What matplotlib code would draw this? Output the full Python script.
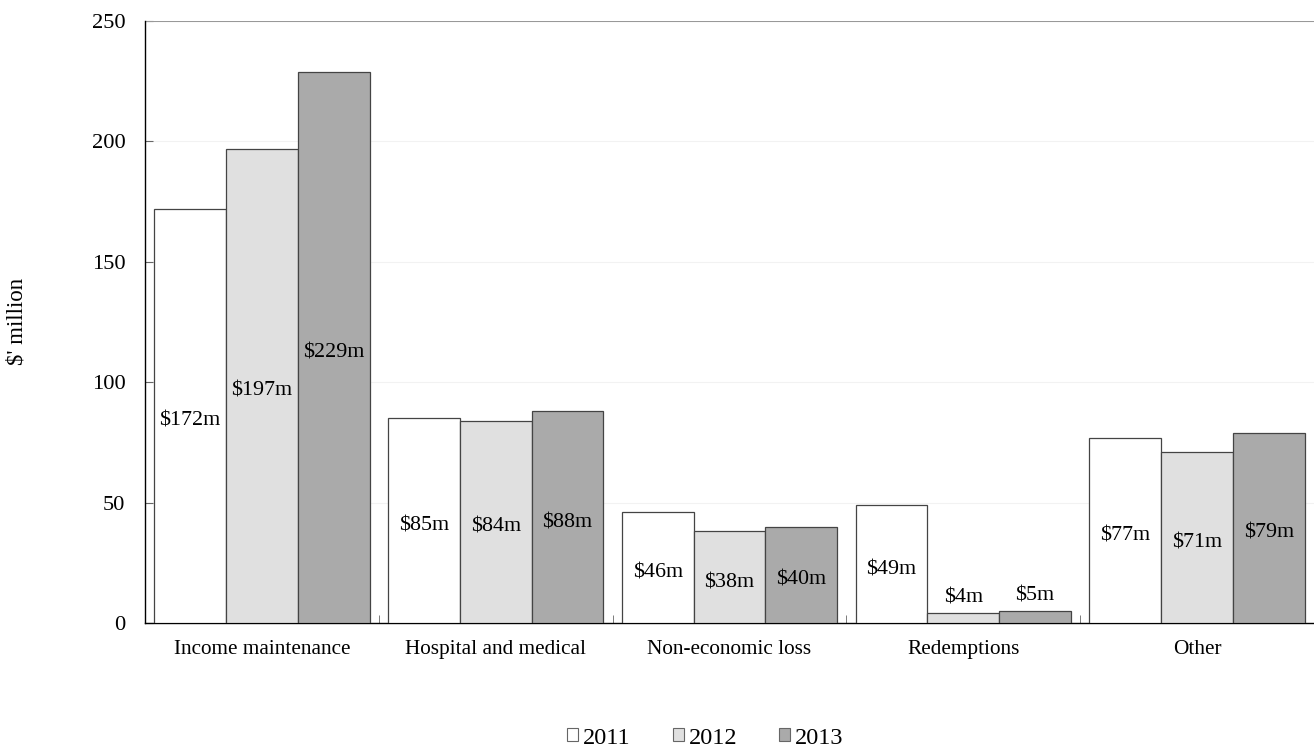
import matplotlib
matplotlib.use("Agg")
import matplotlib.pyplot as plt
import numpy as np
from matplotlib.patches import Patch

categories = ["Income maintenance", "Hospital and medical", "Non-economic loss", "Redemptions", "Other"]
years = ["2011", "2012", "2013"]
v2011 = [172, 85, 46, 49, 77]
v2012 = [197, 84, 38, 4, 71]
v2013 = [229, 88, 40, 5, 79]
colors = ["#ffffff", "#e0e0e0", "#aaaaaa"]

plt.rcParams['font.family'] = ['Liberation Serif', 'DejaVu Serif']
fig = plt.figure(figsize=(13.14, 7.47), dpi=100)
ax = fig.add_axes([145/1314, 1-623/747, (1314-145)/1314, (623-21)/747])

x = np.arange(len(categories))
w = 0.307
series = [v2011, v2012, v2013]
for i, (vals, c) in enumerate(zip(series, colors)):
    pos = x + (i - 1) * w
    ax.bar(pos, vals, w, color=c, edgecolor="#444444", linewidth=0.9, zorder=3)
    for p, v in zip(pos, vals):
        if v < 10:
            ax.annotate(f"${v}m", (p, v), xytext=(0, 11), textcoords="offset points",
                        ha="center", va="center", fontsize=15.8, zorder=4)
        else:
            ax.annotate(f"${v}m", (p, v / 2), xytext=(0, -4), textcoords="offset points",
                        ha="center", va="center", fontsize=15.8, zorder=4)

ax.set_xlim(-0.5, len(categories) - 0.5)
ax.set_ylim(0, 250)
ax.set_yticks([0, 50, 100, 150, 200, 250])
for yv in [50, 100, 150, 200]:
    ax.axhline(yv, color="#f2f2f2", linewidth=0.8, zorder=1)
ax.axhline(250, color="#999999", linewidth=1.5, zorder=2)

ax.spines["top"].set_visible(False)
ax.spines["right"].set_visible(False)
ax.spines["left"].set_color("black")
ax.spines["bottom"].set_color("black")
ax.spines["left"].set_linewidth(1.0)
ax.spines["bottom"].set_linewidth(1.0)

ax.set_xticks(x)
ax.set_xticklabels(categories, fontsize=15.3)
ax.tick_params(axis="x", length=0, pad=12)
ax.set_xticks(np.arange(len(categories) - 1) + 0.5, minor=True)
ax.tick_params(axis="x", which="minor", length=6, direction="in", color="#666666")
ax.tick_params(axis="y", length=6, direction="in", labelsize=16.2, pad=14, color="#666666")

fig.text(17/1314, 1-321/747, "$' million", rotation=90, ha="center", va="center", fontsize=16.5)

handles = [Patch(facecolor=c, edgecolor="#666666", linewidth=0.8) for c in colors]
fig.legend(handles, years, loc="center", bbox_to_anchor=(705.5/1314, 1-738/747), ncol=3, frameon=False,
           fontsize=17.5, handlelength=0.45, handleheight=0.45, handletextpad=0.2, columnspacing=1.73,
           borderpad=0.1)

fig.savefig("out.png", dpi=100)
